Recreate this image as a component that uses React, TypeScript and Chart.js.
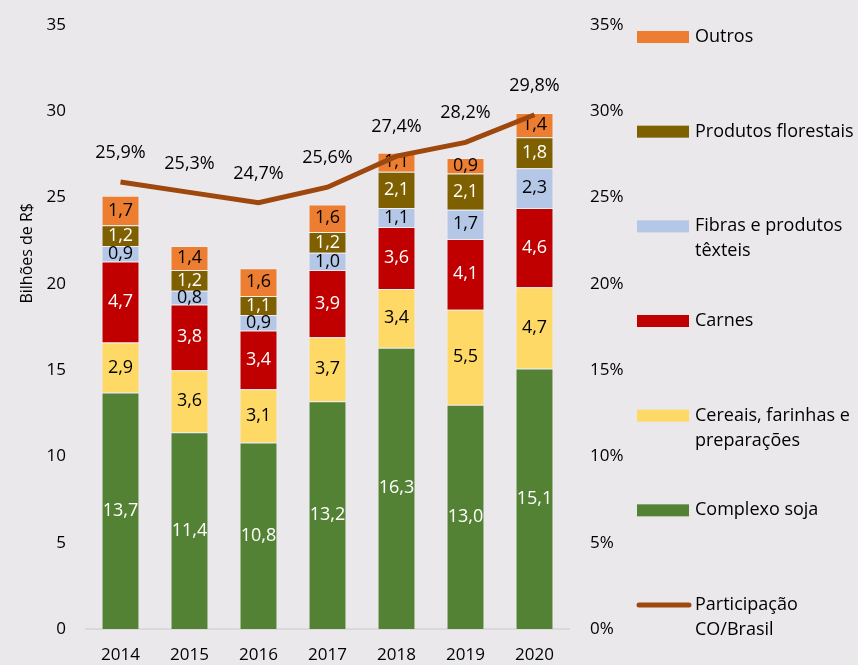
import { useEffect, useRef } from "react";
import { Chart, registerables } from "chart.js";

Chart.register(...registerables);

const years = ["2014", "2015", "2016", "2017", "2018", "2019", "2020"];
const soja = [13.7, 11.4, 10.8, 13.2, 16.3, 13.0, 15.1];
const cereais = [2.9, 3.6, 3.1, 3.7, 3.4, 5.5, 4.7];
const carnes = [4.7, 3.8, 3.4, 3.9, 3.6, 4.1, 4.6];
const fibras = [0.9, 0.8, 0.9, 1.0, 1.1, 1.7, 2.3];
const florestais = [1.2, 1.2, 1.1, 1.2, 2.1, 2.1, 1.8];
const outros = [1.7, 1.4, 1.6, 1.6, 1.1, 0.9, 1.4];
const participacao = [25.9, 25.3, 24.7, 25.6, 27.4, 28.2, 29.8];

const FONT = "'Open Sans'";
const BG = "#EAE8EB";

const fmt = (v: number, d = 1) => v.toFixed(d).replace(".", ",");

export default function App() {
  const ref = useRef<HTMLCanvasElement | null>(null);

  useEffect(() => {
    document.body.style.margin = "0";
    document.body.style.background = BG;
    const canvas = ref.current!;

    const barLabelPlugin = {
      id: "barLabels",
      afterDatasetDraw(chart: any, args: any) {
        const meta = args.meta;
        if (meta.type !== "bar") return;
        const ds = chart.data.datasets[args.index] as any;
        const ctx = chart.ctx;
        ctx.save();
        ctx.font = `18px ${FONT}`;
        ctx.fillStyle = ds.labelColor;
        ctx.textAlign = "center";
        ctx.textBaseline = "middle";
        meta.data.forEach((el: any, i: number) => {
          const v = ds.data[i];
          const y = (el.y + el.base) / 2;
          ctx.fillText(fmt(v), el.x, y);
        });
        ctx.restore();
      },
      afterDatasetsDraw(chart: any) {
        const ctx = chart.ctx;
        chart.data.datasets.forEach((ds: any, di: number) => {
          const meta = chart.getDatasetMeta(di);
          if (meta.type !== "line") return;
          ctx.save();
          ctx.font = `18px ${FONT}`;
          ctx.fillStyle = "#000";
          ctx.textAlign = "center";
          ctx.textBaseline = "middle";
          meta.data.forEach((el: any, i: number) => {
            ctx.fillText(fmt(ds.data[i]) + "%", el.x, el.y - 29);
          });
          ctx.restore();
        });
      },
      afterDraw(chart: any) {
        const ctx = chart.ctx;
        const area = chart.chartArea;
        // axis title
        ctx.save();
        ctx.font = `16px ${FONT}`;
        ctx.fillStyle = "#000";
        ctx.textAlign = "center";
        ctx.textBaseline = "middle";
        ctx.translate(27, area.top + (area.bottom - area.top) * 0.378);
        ctx.rotate(-Math.PI / 2);
        ctx.fillText("Bilhões de R$", 0, 0);
        ctx.restore();

        // legend
        const items = [
          { t: ["Outros"], c: "#ED7D31", line: false },
          { t: ["Produtos florestais"], c: "#7F6000", line: false },
          { t: ["Fibras e produtos", "têxteis"], c: "#B4C7E7", line: false },
          { t: ["Carnes"], c: "#C00000", line: false },
          { t: ["Cereais, farinhas e", "preparações"], c: "#FFD966", line: false },
          { t: ["Complexo soja"], c: "#548235", line: false },
          { t: ["Participação", "CO/Brasil"], c: "#9E480E", line: true },
        ];
        const x0 = area.right + 68;
        const y0 = area.top + 12;
        const step = (area.bottom - area.top - 36) / (items.length - 1);
        ctx.save();
        ctx.font = `18px ${FONT}`;
        ctx.textAlign = "left";
        ctx.textBaseline = "middle";
        items.forEach((it, i) => {
          const y = y0 + i * step;
          if (it.line) {
            ctx.strokeStyle = it.c;
            ctx.lineWidth = 5;
            ctx.lineCap = "round";
            ctx.beginPath();
            ctx.moveTo(x0 + 2, y);
            ctx.lineTo(x0 + 52, y);
            ctx.stroke();
          } else {
            ctx.fillStyle = it.c;
            ctx.fillRect(x0, y - 6, 52, 12);
          }
          ctx.fillStyle = "#000";
          it.t.forEach((line, li) => {
            ctx.fillText(line, x0 + 58, y + li * 25);
          });
        });
        ctx.restore();
      },
    };

    const barDs = (label: string, data: number[], color: string, labelColor: string) => ({
      type: "bar" as const,
      label,
      data,
      backgroundColor: color,
      borderColor: "rgba(255,255,255,0.25)",
      borderWidth: 1,
      labelColor,
      yAxisID: "y",
      stack: "s",
      order: 1,
      barPercentage: 0.55,
      categoryPercentage: 1,
    });

    const chart = new Chart(canvas, {
      data: {
        labels: years,
        datasets: [
          {
            type: "line",
            label: "Participação CO/Brasil",
            data: participacao,
            borderColor: "#9E480E",
            borderWidth: 5,
            pointRadius: 0,
            yAxisID: "y2",
            order: 0,
            tension: 0,
          } as any,
          barDs("Complexo soja", soja, "#548235", "#fff"),
          barDs("Cereais, farinhas e preparações", cereais, "#FFD966", "#000"),
          barDs("Carnes", carnes, "#C00000", "#fff"),
          barDs("Fibras e produtos têxteis", fibras, "#B4C7E7", "#000"),
          barDs("Produtos florestais", florestais, "#7F6000", "#fff"),
          barDs("Outros", outros, "#ED7D31", "#000"),
        ],
      },
      options: {
        responsive: false,
        animation: false,
        layout: { padding: { top: 25, left: 0, right: 231, bottom: 0 } },
        plugins: {
          legend: { display: false },
          tooltip: { enabled: false },
        },
        scales: {
          x: {
            stacked: true,
            grid: { display: false, drawTicks: false },
            border: { display: true, color: "#D9D9D9", width: 2 },
            ticks: { color: "#000", font: { family: FONT, size: 17 }, padding: 16, maxRotation: 0, autoSkip: false },
            afterFit: (s: any) => {
              s.height = 36;
            },
          },
          y: {
            stacked: true,
            position: "left",
            min: 0,
            max: 35,
            grid: { display: false, drawTicks: false },
            border: { display: false },
            ticks: { stepSize: 5, color: "#000", font: { family: FONT, size: 17 }, padding: 20 },
            afterFit: (s: any) => {
              s.width = 86;
              s.paddingTop = 10;
              s.paddingBottom = 10;
            },
          },
          y2: {
            position: "right",
            min: 0,
            max: 35,
            grid: { display: false, drawTicks: false },
            border: { display: false },
            ticks: {
              stepSize: 5,
              color: "#000",
              font: { family: FONT, size: 17 },
              padding: 21,
              callback: (v: any) => v + "%",
            },
            afterFit: (s: any) => {
              s.width = 58;
              s.paddingTop = 10;
              s.paddingBottom = 10;
            },
          },
        },
      } as any,
      plugins: [barLabelPlugin],
    });
    return () => chart.destroy();
  }, []);

  return (
    <div style={{ width: 858, height: 665, background: BG }}>
      <canvas ref={ref} width={858} height={665} style={{ display: "block" }} />
    </div>
  );
}
